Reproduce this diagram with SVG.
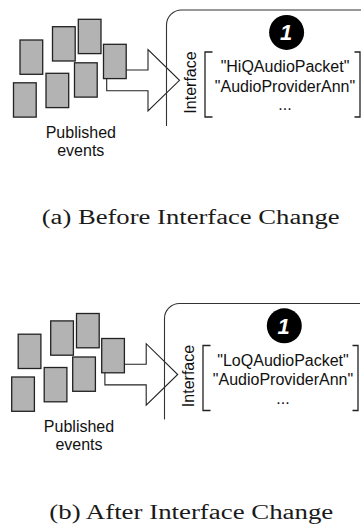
<svg xmlns="http://www.w3.org/2000/svg" width="361" height="527" viewBox="0 0 361 527">
<style>
.ev{fill:#b3b3b3;stroke:#222;stroke-width:1.3}
.arrow{fill:#fff;stroke:#222;stroke-width:1.1}
.panel{fill:none;stroke:#333;stroke-width:1.1}
.br{fill:none;stroke:#222;stroke-width:1.3}
.t{font-family:"Liberation Sans",Arial,sans-serif;font-size:16px;fill:#111;text-anchor:middle}
.one{font-family:"Liberation Sans",Arial,sans-serif;font-size:22px;font-weight:bold;font-style:italic;fill:#fff;text-anchor:middle}
.cap{font-family:"Liberation Serif","Times New Roman",serif;font-size:20px;fill:#1a1a1a}
</style>
<defs>
<g id="evs">
<rect class="ev" x="20" y="40" width="22.7" height="34.3"/>
<rect class="ev" x="52.5" y="26.7" width="22.7" height="34.3"/>
<rect class="ev" x="78.3" y="19.3" width="22.7" height="34.3"/>
<rect class="ev" x="13.5" y="82.8" width="22.7" height="34.3"/>
<rect class="ev" x="46" y="73.3" width="22.7" height="34.3"/>
<rect class="ev" x="74.5" y="62.8" width="22.7" height="34.3"/>
</g>
<g id="arr">
<polygon class="arrow" points="106.7,70 148,70 148,49.5 179.5,80.3 148,111 148,90.7 106.7,90.7"/>
<rect class="ev" x="103.5" y="44.3" width="22.7" height="34.3"/>
</g>
<g id="pnl">
<path class="panel" d="M166.5,126 V25 A15,15 0 0 1 181.5,10 H362"/>
<path class="br" d="M212.5,52 H205 V117 H212.5 M354.5,52 H360 V117 H354.5"/>
<text class="t" transform="translate(195.5,82.5) rotate(-90)">Interface</text>
</g>
<g id="bdg">
<circle cx="286.6" cy="32.4" r="17.5" fill="#000"/>
<text class="one" x="286" y="40.3">1</text>
</g>
</defs>

<g id="panel-a">
<g id="events-a">
<use href="#evs"/>
<text class="t" x="80.8" y="138.3">Published</text>
<text class="t" x="80.8" y="156.3">events</text>
</g>
<g id="connectors-a">
<use href="#arr"/>
</g>
<g id="interface-a">
<use href="#pnl"/>
<text class="t" x="285" y="72.3">"HiQAudioPacket"</text>
<text class="t" x="285" y="91.5">"AudioProviderAnn"</text>
<text class="t" x="285" y="110">...</text>
</g>
<g id="badge-a"><use href="#bdg"/></g>
<text id="caption-a" class="cap" x="41.7" y="224.3" textLength="298" lengthAdjust="spacingAndGlyphs">(a) Before Interface Change</text>
</g>

<g id="panel-b">
<g id="events-b" transform="translate(-1.8,294.2)">
<use href="#evs"/>
<text class="t" x="80.8" y="138.3">Published</text>
<text class="t" x="80.8" y="156.3">events</text>
</g>
<g id="connectors-b" transform="translate(-1.8,294.2)">
<use href="#arr"/>
</g>
<g id="interface-b" transform="translate(-2,293.5)">
<use href="#pnl"/>
<text class="t" x="285" y="72.3">"LoQAudioPacket"</text>
<text class="t" x="285" y="91.5">"AudioProviderAnn"</text>
<text class="t" x="285" y="110">...</text>
</g>
<g id="badge-b" transform="translate(-2.3,293.4)"><use href="#bdg"/></g>
<text id="caption-b" class="cap" x="49.3" y="518.5" textLength="284" lengthAdjust="spacingAndGlyphs">(b) After Interface Change</text>
</g>
</svg>
